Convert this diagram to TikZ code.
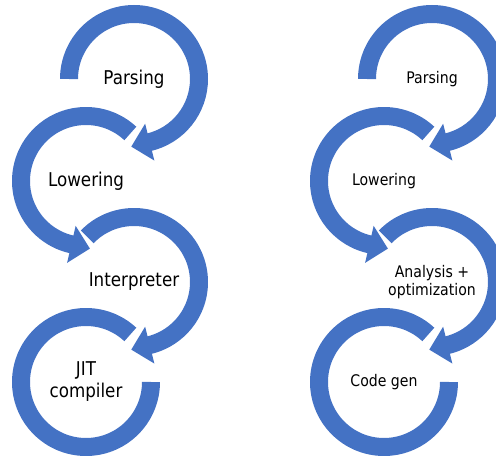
\documentclass[tikz,border=0pt]{standalone}
\usepackage{fontspec}
\setmainfont{DejaVu Sans}[FakeStretch=0.88]
\usetikzlibrary{calc}
\definecolor{ringblue}{RGB}{68,114,196}

\begin{document}
\begin{tikzpicture}[x=1pt, y=1pt,
    ring/.style={draw=ringblue, line width=18pt},
    tip/.style={fill=ringblue},
    big/.style={font=\fontsize{19}{22}\selectfont, align=center},
    small/.style={font=\fontsize{16}{17.7}\selectfont, align=center}]
  \useasboundingbox (0,0) rectangle (496,-457);
  \clip (0,0) rectangle (496,-457);
  % ring centres, left and right column
  \foreach \col/\dx in {l/0, r/298} {
    \coordinate (\col1) at (134+\dx,-79);
    \coordinate (\col2) at (86+\dx,-181);
    \coordinate (\col3) at (134+\dx,-282);
    \coordinate (\col4) at (86+\dx,-382);
  }
  \foreach \col in {l, r} {
    \draw[ring] ($(\col1)+(180:65)$) arc[start angle=180, end angle=-77, radius=65pt];
    \fill[tip] ($(\col1)+(-76:46)$) -- ($(\col1)+(-76:84)$) -- ($(\col1)+(-76:65)+(-166:19)$) -- cycle;
    \draw[ring] ($(\col2)+(47:65)$) arc[start angle=47, end angle=258, radius=65pt];
    \fill[tip] ($(\col2)+(257:46)$) -- ($(\col2)+(257:84)$) -- ($(\col2)+(257:65)+(347:19)$) -- cycle;
    \draw[ring] ($(\col3)+(136:65)$) arc[start angle=136, end angle=-77, radius=65pt];
    \fill[tip] ($(\col3)+(-76:46)$) -- ($(\col3)+(-76:84)$) -- ($(\col3)+(-76:65)+(-166:19)$) -- cycle;
    \draw[ring] ($(\col4)+(47:65)$) arc[start angle=47, end angle=360, radius=65pt];
  }
  % labels
  \node[big] (parse) at (l1) {Parsing};
  \node[big] (lower) at (l2) {Lowering};
  \node[big] (interp) at (l3) {Interpreter};
  \node[big] (jit) at (l4) {JIT\\compiler};
  \node[small] (parse2) at (r1) {Parsing};
  \node[small] (lower2) at (r2) {Lowering};
  \node[small] (analysis) at (r3) {Analysis +\\optimization};
  \node[small] (codegen) at (r4) {Code gen};
\end{tikzpicture}
\end{document}
